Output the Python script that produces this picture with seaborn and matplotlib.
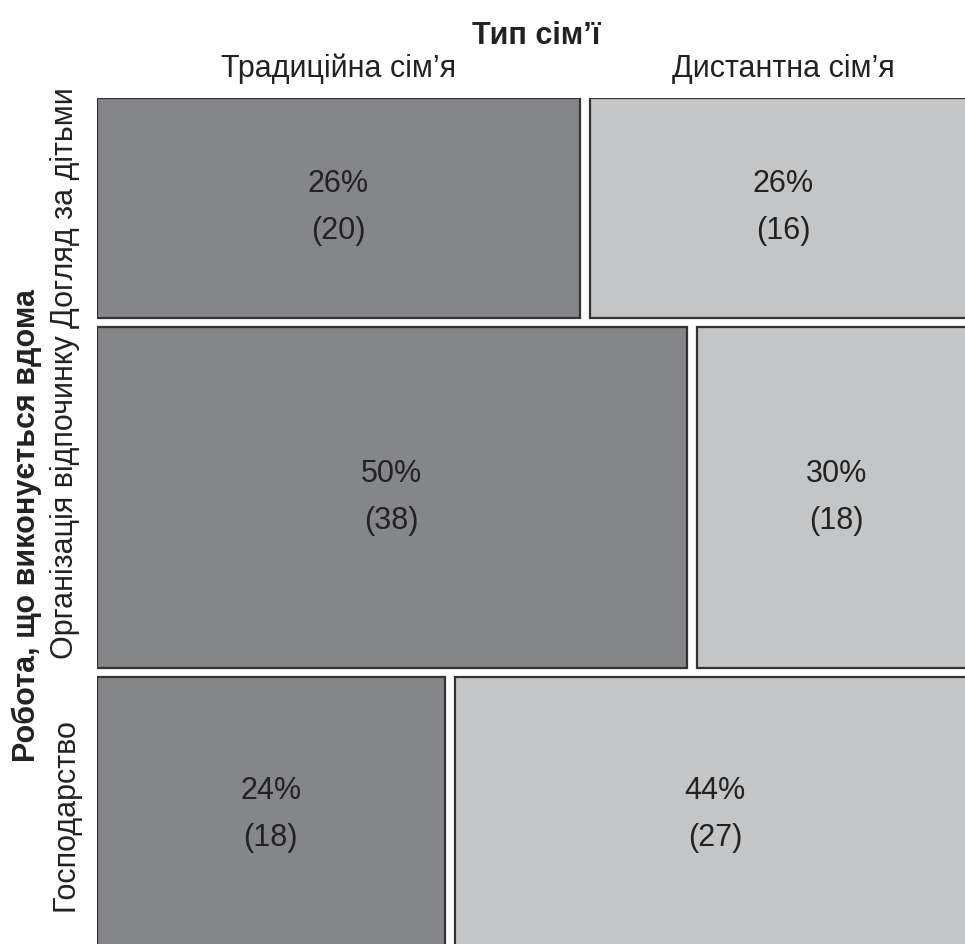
import matplotlib
matplotlib.use('Agg')
import matplotlib.pyplot as plt
import seaborn as sns

work_types = ['Догляд за дітьми', 'Організація відпочинку', 'Господарство']
family_types = ['Традиційна сім’я', 'Дистантна сім’я']
traditional_counts = [20, 38, 18]
distant_counts = [16, 18, 27]

sns.set_theme(style='white')
plt.rcParams['font.family'] = ['Liberation Sans', 'DejaVu Sans']

dark = '#85868a'
light = '#c4c5c7'
edge = '#333333'
txt = '#222222'

fig = plt.figure(figsize=(9.65, 9.44), dpi=100)
# axes run a little past the right and bottom edge, as in the reference
ax = fig.add_axes([97 / 965, 1 - 952 / 944, 879 / 965, 854 / 944])

gx = 10 / 869  # horizontal gap between tiles
gy = 9 / 835   # vertical gap between rows

grand = sum(traditional_counts) + sum(distant_counts)
trad_total = sum(traditional_counts)
dist_total = sum(distant_counts)

y_top = 0
row_centers = []
first_row = None
for i, work in enumerate(work_types):
    t = traditional_counts[i]
    d = distant_counts[i]
    row_total = t + d
    h = row_total / grand
    yc = y_top + h / 2
    row_centers.append(yc)
    wt = t / row_total
    wd = d / row_total
    ax.barh(yc, wt, height=h, left=0, color=dark, edgecolor=edge, linewidth=1.6)
    ax.barh(yc, wd, height=h, left=wt + gx, color=light, edgecolor=edge, linewidth=1.6)
    ax.text(wt / 2, yc, f'{round(100 * t / trad_total)}%\n({t})', ha='center', va='center',
            fontsize=22, color=txt, linespacing=1.75)
    ax.text(wt + gx + wd / 2, yc, f'{round(100 * d / dist_total)}%\n({d})', ha='center', va='center',
            fontsize=22, color=txt, linespacing=1.75)
    if first_row is None:
        first_row = (wt, wd)
    y_top += h + gy

ax.set_xlim(0, 1 + gx)
ax.set_ylim(y_top - gy, 0)

# column labels on top of the first row tiles
ax.xaxis.tick_top()
ax.set_xticks([first_row[0] / 2, first_row[0] + gx + first_row[1] / 2])
ax.set_xticklabels(family_types, fontsize=22, color=txt)
ax.xaxis.set_label_position('top')
ax.set_xlabel('Тип сім’ї', fontsize=22, fontweight='bold', color=txt, labelpad=7)

ax.set_yticks(row_centers)
ax.set_yticklabels(work_types, fontsize=22, color=txt, rotation=90, va='center')
ax.set_ylabel('Робота, що виконується вдома', fontsize=22, fontweight='bold', color=txt, labelpad=6)
ax.tick_params(axis='both', length=0)
ax.tick_params(axis='x', pad=10)
ax.tick_params(axis='y', pad=12)

for s in ax.spines.values():
    s.set_visible(False)

fig.savefig('out.png', dpi=100)
